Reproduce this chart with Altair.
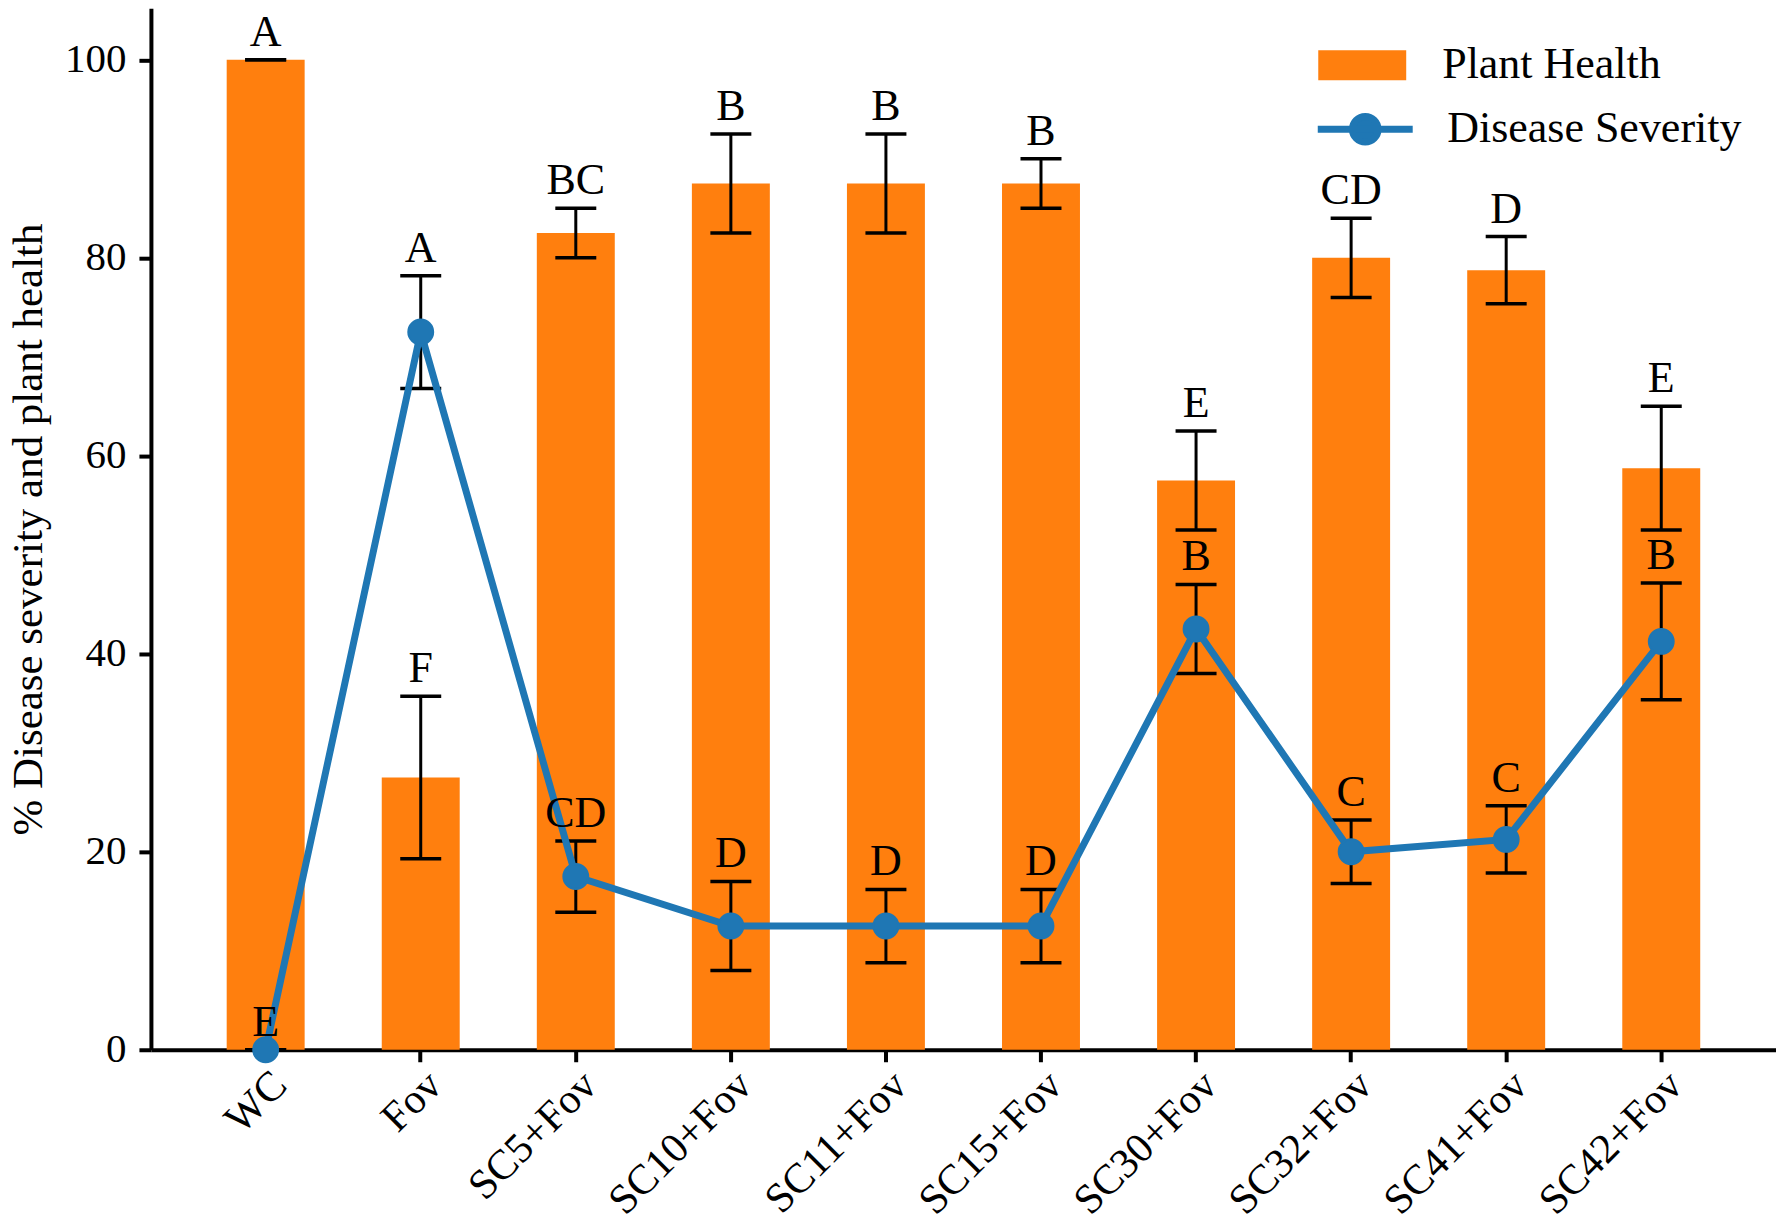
import altair as alt
import pandas as pd

categories = ["WC", "Fov", "SC5+Fov", "SC10+Fov", "SC11+Fov", "SC15+Fov",
              "SC30+Fov", "SC32+Fov", "SC41+Fov", "SC42+Fov"]
plant_health = [100, 27.5, 82.5, 87.5, 87.5, 87.5, 57.5, 80, 78.75, 58.75]
plant_err = [0, 8.2, 2.5, 5.0, 5.0, 2.5, 5.0, 4.0, 3.4, 6.25]
plant_letters = ["A", "F", "BC", "B", "B", "B", "E", "CD", "D", "E"]
disease = [0, 72.5, 17.5, 12.5, 12.5, 12.5, 42.5, 20, 21.25, 41.25]
disease_err = [0, 5.7, 3.6, 4.5, 3.7, 3.7, 4.5, 3.2, 3.4, 5.9]
disease_letters = ["E", "A", "CD", "D", "D", "D", "B", "C", "C", "B"]

ORANGE = "#ff7f0e"
BLUE = "#1f77b4"
FONT = "Liberation Serif"

df = pd.DataFrame({
    "cat": categories,
    "ph": plant_health,
    "ph_lo": [v - e for v, e in zip(plant_health, plant_err)],
    "ph_hi": [v + e for v, e in zip(plant_health, plant_err)],
    "ph_letter": plant_letters,
    "ds": disease,
    "ds_lo": [v - e for v, e in zip(disease, disease_err)],
    "ds_hi": [v + e for v, e in zip(disease, disease_err)],
    "ds_letter": disease_letters,
    "s_ph": ["Plant Health"] * len(categories),
    "s_ds": ["Disease Severity"] * len(categories),
})

x = alt.X("cat:N", sort=categories,
          scale=alt.Scale(paddingInner=0.5, paddingOuter=0.49),
          axis=alt.Axis(title=None, labelAngle=-45, labelAlign="right",
                        labelBaseline="top", labelPadding=2, labelLimit=0,
                        labelFontSize=42, tickSize=12))
yscale = alt.Scale(domain=[0, 105.2], nice=False, zero=True)
yaxis = alt.Axis(title="% Disease severity and plant health",
                 values=[0, 20, 40, 60, 80, 100], tickSize=12,
                 labelPadding=13, titlePadding=14, labelFontSize=41)

base = alt.Chart(df)

bars = base.mark_bar(size=78).encode(
    x=x,
    y=alt.Y("ph:Q", scale=yscale, axis=yaxis),
    fill=alt.Fill("s_ph:N",
                  scale=alt.Scale(domain=["Plant Health"], range=[ORANGE]),
                  legend=alt.Legend(title=None, orient="none", legendX=1167,
                                    legendY=12, padding=0,
                                    symbolType="M-1,-0.34H1V0.34H-1Z",
                                    symbolSize=7744, labelOffset=35,
                                    labelFont=FONT, labelFontSize=44,
                                    labelColor="black", labelLimit=0)),
)

ph_rule = base.mark_rule(color="black", strokeWidth=3).encode(
    x=x, y=alt.Y("ph_lo:Q", scale=yscale), y2="ph_hi:Q")
ph_cap_hi = base.mark_tick(color="black", size=41, thickness=3.5,
                           opacity=1).encode(x=x, y=alt.Y("ph_hi:Q", scale=yscale))
ph_cap_lo = base.mark_tick(color="black", size=41, thickness=3.5,
                           opacity=1).encode(x=x, y=alt.Y("ph_lo:Q", scale=yscale))

ds_rule = base.mark_rule(color="black", strokeWidth=3).encode(
    x=x, y=alt.Y("ds_lo:Q", scale=yscale), y2="ds_hi:Q")
ds_cap_hi = base.mark_tick(color="black", size=41, thickness=3.5,
                           opacity=1).encode(x=x, y=alt.Y("ds_hi:Q", scale=yscale))
ds_cap_lo = base.mark_tick(color="black", size=41, thickness=3.5,
                           opacity=1).encode(x=x, y=alt.Y("ds_lo:Q", scale=yscale))

line = base.mark_line(color=BLUE, strokeWidth=7).encode(
    x=x, y=alt.Y("ds:Q", scale=yscale))

points = base.mark_point(filled=True, size=620, opacity=1, stroke=BLUE).encode(
    x=x, y=alt.Y("ds:Q", scale=yscale),
    color=alt.Color("s_ds:N",
                    scale=alt.Scale(domain=["Disease Severity"], range=[BLUE]),
                    legend=alt.Legend(title=None, orient="none", legendX=1164,
                                      legendY=70, padding=0,
                                      symbolType="M-1,0H1M0.27,0A0.27,0.27,0,1,1,-0.27,0A0.27,0.27,0,1,1,0.27,0Z",
                                      symbolSize=9025, symbolStrokeColor=BLUE,
                                      symbolFillColor=BLUE,
                                      symbolStrokeWidth=7, labelOffset=31,
                                      labelFont=FONT, labelFontSize=44,
                                      labelColor="black", labelLimit=0)),
)

ph_text = base.mark_text(font=FONT, fontSize=44, baseline="bottom", dy=-5,
                         color="black").encode(
    x=x, y=alt.Y("ph_hi:Q", scale=yscale), text="ph_letter:N")
ds_text = base.mark_text(font=FONT, fontSize=44, baseline="bottom", dy=-5,
                         color="black").encode(
    x=x, y=alt.Y("ds_hi:Q", scale=yscale), text="ds_letter:N")

chart = alt.layer(
    bars, ph_rule, ph_cap_hi, ph_cap_lo, ds_rule, ds_cap_hi, ds_cap_lo,
    line, points, ph_text, ds_text
).resolve_scale(fill="independent", color="independent").properties(
    width=1626, height=1042,
    autosize=alt.AutoSizeParams(type="none"),
    padding={"left": 143, "top": 0, "right": 0, "bottom": 176},
).configure_view(stroke=None).configure_axis(
    grid=False, domainColor="black", domainWidth=4, tickColor="black",
    tickWidth=4, labelFont=FONT, labelColor="black", titleFont=FONT,
    titleFontSize=43, titleFontWeight="normal", titleColor="black",
)

chart.save("out.html", embed_options={"renderer": "svg", "actions": False})
